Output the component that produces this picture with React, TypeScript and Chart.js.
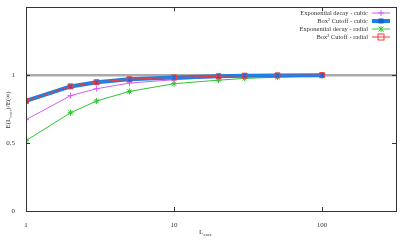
import React, { useEffect, useRef } from "react";
import { Chart, registerables } from "chart.js";
Chart.register(...registerables);

const lcorr = [1, 2, 3, 5, 10, 20, 30, 50, 100];
const expCubic = [0.672, 0.849, 0.9, 0.942, 0.966, 0.984, 0.99, 0.995, 0.998];
const boxCubic = [0.81, 0.917, 0.947, 0.969, 0.982, 0.991, 0.995, 0.998, 1.0];
const expRadial = [0.518, 0.723, 0.81, 0.88, 0.937, 0.963, 0.976, 0.985, 0.995];
const boxRadial = [0.81, 0.917, 0.948, 0.97, 0.983, 0.992, 0.996, 0.998, 1.0];
const xTicks = [1, 10, 100];
const yTicks = [0, 0.5, 1];
const legendLabels = ["Exponential decay - cubic", "Box\u00B2 Cutoff - cubic", "Exponential decay - radial", "Box\u00B2 Cutoff - radial"];

const FONT = "'Liberation Serif', 'DejaVu Serif', serif";

const pts = (ys: number[]) => lcorr.map((x, i) => ({ x, y: ys[i] }));

const framePlugin = {
  id: "frame",
  afterDraw(chart: any) {
    const { ctx, chartArea: a, scales } = chart;
    ctx.save();
    ctx.strokeStyle = "#333";
    ctx.lineWidth = 1;
    ctx.strokeRect(Math.round(a.left) + 0.5, Math.round(a.top) + 0.5, Math.round(a.right - a.left), Math.round(a.bottom - a.top));
    ctx.beginPath();
    for (const v of xTicks) {
      const x = Math.round(scales.x.getPixelForValue(v)) + 0.5;
      ctx.moveTo(x, a.bottom); ctx.lineTo(x, a.bottom - 4);
      ctx.moveTo(x, a.top); ctx.lineTo(x, a.top + 4);
    }
    for (const v of [0, 0.5, 1, 1.5]) {
      const y = Math.round(scales.y.getPixelForValue(v)) + 0.5;
      ctx.moveTo(a.left, y); ctx.lineTo(a.left + 4, y);
      ctx.moveTo(a.right, y); ctx.lineTo(a.right - 4, y);
    }
    ctx.stroke();

    // axis titles with subscripts
    ctx.fillStyle = "#333";
    ctx.textBaseline = "alphabetic";
    // x title
    const xt = 205, yt = 234;
    ctx.font = `7px ${FONT}`;
    ctx.textAlign = "left";
    ctx.fillText("L", xt - 6, yt);
    ctx.font = `5px ${FONT}`;
    ctx.fillText("corr", xt - 1.5, yt + 2);
    // y title rotated
    ctx.save();
    ctx.translate(10, 110);
    ctx.rotate(-Math.PI / 2);
    const parts: [string, number, number][] = [["E(L", 7, 0], ["corr", 5, 2], [")/E(\u221E)", 7, 0]];
    let total = 0;
    for (const [t, s] of parts) { ctx.font = `${s}px ${FONT}`; total += ctx.measureText(t).width; }
    let cx = -total / 2;
    for (const [t, s, dy] of parts) {
      ctx.font = `${s}px ${FONT}`;
      ctx.fillText(t, cx, dy);
      cx += ctx.measureText(t).width;
    }
    ctx.restore();

    // legend
    const styles = [
      { c: "#d65cf5", w: 1, m: "plus" },
      { c: "#1a7fe8", w: 4, m: "filled" },
      { c: "#33c433", w: 1, m: "star" },
      { c: "#f03c3c", w: 1, m: "open" },
    ];
    ctx.font = `6.5px ${FONT}`;
    ctx.textAlign = "right";
    ctx.textBaseline = "middle";
    legendLabels.forEach((lab, i) => {
      const y = 13 + i * 8;
      ctx.fillStyle = "#333";
      ctx.fillText(lab, 368, y);
      const s = styles[i];
      ctx.strokeStyle = s.c;
      ctx.lineWidth = s.w;
      ctx.beginPath(); ctx.moveTo(372, y); ctx.lineTo(390, y); ctx.stroke();
      ctx.lineWidth = 1;
      const mx = 381;
      if (s.m === "plus") {
        ctx.beginPath(); ctx.moveTo(mx, y - 3); ctx.lineTo(mx, y + 3); ctx.moveTo(mx - 3, y); ctx.lineTo(mx + 3, y); ctx.stroke();
      } else if (s.m === "filled") {
        ctx.fillStyle = "#1a5fd0"; ctx.fillRect(mx - 2.5, y - 2.5, 5, 5);
      } else if (s.m === "star") {
        ctx.beginPath(); ctx.moveTo(mx - 2.5, y - 2.5); ctx.lineTo(mx + 2.5, y + 2.5); ctx.moveTo(mx + 2.5, y - 2.5); ctx.lineTo(mx - 2.5, y + 2.5); ctx.moveTo(mx, y - 3); ctx.lineTo(mx, y + 3); ctx.stroke();
      } else {
        ctx.strokeRect(mx - 3, y - 3, 6, 6);
      }
    });
    ctx.restore();
  },
};

export default function App() {
  const ref = useRef<HTMLCanvasElement>(null);
  useEffect(() => {
    const chart = new Chart(ref.current!, {
      type: "line",
      data: {
        datasets: [
          {
            label: "Box2 Cutoff - radial", data: pts(boxRadial), borderColor: "#f03c3c", backgroundColor: "rgba(0,0,0,0)",
            borderWidth: 1, pointStyle: "rect", pointRadius: 3.5, pointBorderWidth: 1, order: 1,
          },
          {
            label: "Box2 Cutoff - cubic", data: pts(boxCubic), borderColor: "#1a7fe8", backgroundColor: "#1a5fd0",
            borderWidth: 4, pointStyle: "rect", pointRadius: 3, pointBorderWidth: 1, order: 2,
          },
          {
            label: "Exponential decay - cubic", data: pts(expCubic), borderColor: "#d65cf5", backgroundColor: "#d65cf5",
            borderWidth: 1, pointStyle: "cross", pointRadius: 3, pointBorderWidth: 1, order: 3,
          },
          {
            label: "Exponential decay - radial", data: pts(expRadial), borderColor: "#33c433", backgroundColor: "#33c433",
            borderWidth: 1, pointStyle: "star", pointRadius: 3, pointBorderWidth: 1, order: 4,
          },
          {
            label: "ref", data: [{ x: 1, y: 1 }, { x: 316, y: 1 }], borderColor: "#aaaaaa",
            borderWidth: 2.5, pointRadius: 0, order: 5,
          },
        ],
      },
      options: {
        responsive: false,
        animation: false,
        layout: { padding: { top: 6, right: 11, left: 0, bottom: 0 } },
        plugins: { legend: { display: false }, tooltip: { enabled: false } },
        scales: {
          x: {
            type: "logarithmic", min: 1, max: 316,
            grid: { display: false }, border: { display: false },
            afterBuildTicks: (s: any) => { s.ticks = xTicks.map((v) => ({ value: v })); },
            ticks: { font: { family: FONT, size: 7 }, color: "#333", padding: 2, maxRotation: 0, callback: (v: any) => String(v) },
            afterFit: (s: any) => { s.height = 33; },
          },
          y: {
            type: "linear", min: 0, max: 1.5,
            grid: { display: false }, border: { display: false },
            afterBuildTicks: (s: any) => { s.ticks = yTicks.map((v) => ({ value: v })); },
            ticks: { font: { family: FONT, size: 7 }, color: "#333", padding: 3, callback: (v: any) => String(v) },
            afterFit: (s: any) => { s.width = 26; },
          },
        },
      },
      plugins: [framePlugin],
    } as any);
    return () => chart.destroy();
  }, []);
  return (
    <div style={{ position: "absolute", left: 0, top: 0, width: 407, height: 244, background: "#fff" }}>
      <canvas ref={ref} width={407} height={244} />
    </div>
  );
}
